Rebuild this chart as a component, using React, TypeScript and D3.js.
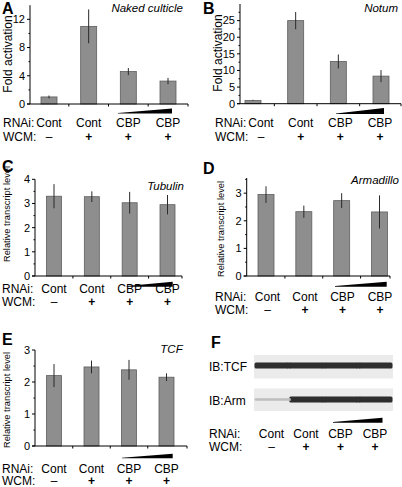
import React from 'react';
import * as d3 from 'd3';

// ---------- data ----------
const rnaiLabels = ['Cont', 'Cont', 'CBP', 'CBP'];
const wcmLabels = ['–', '+', '+', '+'];

const nkdMeans = [1.0, 11.0, 4.6, 3.25];
const nkdErrors = [0.2, 2.4, 0.5, 0.45];
const nkdTicks = [0, 4, 8, 12];

const notumMeans = [1.0, 25.0, 12.7, 8.3];
const notumErrors = [0.15, 2.6, 2.1, 1.8];
const notumTicks = [0, 5, 10, 15, 20, 25];

const tubulinMeans = [3.3, 3.28, 3.03, 2.95];
const tubulinErrors = [0.5, 0.22, 0.45, 0.4];
const tubulinTicks = [0, 1, 2, 3, 4];

const armMeans = [2.95, 2.33, 2.73, 2.32];
const armErrors = [0.3, 0.22, 0.27, 0.6];
const armTicks = [0, 1, 2, 3];

const tcfMeans = [2.2, 2.47, 2.38, 2.15];
const tcfErrors = [0.36, 0.2, 0.31, 0.12];
const tcfTicks = [0, 1, 2, 3];

const blotTcfIntensity = [1, 1, 1, 1];
const blotArmIntensity = [0.22, 1, 1, 1];

// ---------- style ----------
const FONT = "'Liberation Sans', Arial, Helvetica, sans-serif";
const BAR_FILL = '#8e8e8e';
const BAR_STROKE = '#5e5e5e';

type PanelProps = {
  letter: string; letterX: number; letterY: number;
  title: string; titleX: number; titleY: number;
  yLabel: string; yLabelX: number; yLabelY: number; yLabelSize: number;
  means: number[]; errors: number[]; ticks: number[]; yMax: number;
  x0: number; x1: number; yZero: number; yTop: number;
  barRange: [number, number]; barWidth: number; labelRange: [number, number];
  rowLabelX: number; rnaiY: number; wcmY: number;
  wedge: [number, number, number, number];
};

function Wedge({ w }: { w: [number, number, number, number] }) {
  const [xa, xb, bottom, h] = w;
  return <polygon points={`${xa},${bottom} ${xb},${bottom} ${xb},${bottom - h} ${xa},${bottom - 0.6}`} fill="#000" />;
}

function RowLabels({ x, rnaiY, wcmY, scale }: { x: number; rnaiY: number; wcmY: number; scale: d3.ScalePoint<number> }) {
  return (
    <g fontFamily={FONT} fontSize={12} fill="#000">
      <text x={x} y={rnaiY} dy="0.35em">RNAi:</text>
      <text x={x} y={wcmY} dy="0.35em">WCM:</text>
      {rnaiLabels.map((l, i) => (
        <text key={'r' + i} x={scale(i)} y={rnaiY} dy="0.35em" textAnchor="middle">{l}</text>
      ))}
      {wcmLabels.map((l, i) => (
        <text key={'w' + i} x={scale(i)} y={wcmY} dy="0.35em" textAnchor="middle" fontWeight={l === '+' ? 'bold' : 'normal'}>{l}</text>
      ))}
    </g>
  );
}

function BarPanel(p: PanelProps) {
  const idx = p.means.map((_, i) => i);
  const x = d3.scalePoint<number>().domain(idx).range(p.barRange);
  const lx = d3.scalePoint<number>().domain(idx).range(p.labelRange);
  const y = d3.scaleLinear().domain([0, p.yMax]).range([p.yZero, p.yTop]);
  const mids = idx.slice(0, -1).map(i => ((x(i) as number) + (x(i + 1) as number)) / 2);
  const step = p.ticks[1] - p.ticks[0];
  const minor = p.ticks.map(t => t + step / 2).filter(t => t < p.yMax);
  return (
    <g>
      <text x={p.letterX} y={p.letterY} fontFamily={FONT} fontWeight="bold" fontSize={16}>{p.letter}</text>
      <text x={p.titleX} y={p.titleY} dy="0.35em" textAnchor="end" fontFamily={FONT} fontStyle="italic" fontSize={11.5}>{p.title}</text>
      <text transform={`translate(${p.yLabelX},${p.yLabelY}) rotate(-90)`} textAnchor="middle" dy="0.35em" fontFamily={FONT} fontSize={p.yLabelSize}>{p.yLabel}</text>
      {idx.map(i => {
        const cx = x(i) as number;
        return (
          <g key={i}>
            <rect x={cx - p.barWidth / 2} y={y(p.means[i])} width={p.barWidth} height={p.yZero - y(p.means[i])} fill={BAR_FILL} stroke={BAR_STROKE} strokeWidth={0.8} />
            <line x1={cx} x2={cx} y1={y(p.means[i] - p.errors[i])} y2={y(p.means[i] + p.errors[i])} stroke="#2a2a2a" strokeWidth={1} />
          </g>
        );
      })}
      <line x1={p.x0} x2={p.x0} y1={p.yZero} y2={p.yTop} stroke="#000" strokeWidth={1} />
      <line x1={p.x0 - 3} x2={p.x1} y1={p.yZero} y2={p.yZero} stroke="#000" strokeWidth={1} />
      {p.ticks.map(t => (
        <g key={t}>
          <line x1={p.x0 - 3} x2={p.x0} y1={y(t)} y2={y(t)} stroke="#000" />
          <text x={p.x0 - 5} y={y(t)} dy="0.35em" textAnchor="end" fontFamily={FONT} fontSize={11}>{t}</text>
        </g>
      ))}
      {minor.map(t => (
        <line key={'m' + t} x1={p.x0 - 1.5} x2={p.x0} y1={y(t)} y2={y(t)} stroke="#000" />
      ))}
      {mids.map((m, i) => (
        <line key={i} x1={m} x2={m} y1={p.yZero} y2={p.yZero + 2.5} stroke="#000" />
      ))}
      <line x1={p.x1} x2={p.x1} y1={p.yZero} y2={p.yZero + 2.5} stroke="#000" />
      <Wedge w={p.wedge} />
      <RowLabels x={p.rowLabelX} rnaiY={p.rnaiY} wcmY={p.wcmY} scale={lx} />
    </g>
  );
}

function BlotPanel() {
  const lanes = blotTcfIntensity.map((_, i) => i);
  const lane = d3.scaleBand<number>().domain(lanes).range([254, 393]).padding(0);
  const shade = d3.scaleLinear<string>().domain([0, 1]).range(['#e6e6e6', '#2e2e2e']);
  const thick = d3.scaleLinear().domain([0, 1]).range([1.5, 6]);
  const lx = d3.scalePoint<number>().domain(lanes).range([271.5, 375]);
  const rows = [
    { label: 'IB:TCF', top: 355, h: 23.5, band: 365.5, vals: blotTcfIntensity },
    { label: 'IB:Arm', top: 388.5, h: 22.5, band: 399.5, vals: blotArmIntensity },
  ];
  return (
    <g>
      <defs>
        <filter id="blur" x="-5%" y="-50%" width="110%" height="200%">
          <feGaussianBlur stdDeviation="0.7" />
        </filter>
      </defs>
      <text x={211} y={348} fontFamily={FONT} fontWeight="bold" fontSize={16}>F</text>
      {rows.map(r => (
        <g key={r.label}>
          <text x={209} y={r.band + 1} dy="0.35em" fontFamily={FONT} fontSize={12}>{r.label}</text>
          <rect x={254} y={r.top} width={139} height={r.h} fill="#ebebeb" />
          <g filter="url(#blur)">
            {r.vals.map((v, i) => (
              <rect key={i} x={(lane(i) as number) + 0.5} y={r.band - thick(v) / 2} width={lane.bandwidth() - 1} height={thick(v)} fill={shade(v)} rx={1.5} />
            ))}
            {r.vals.slice(0, -1).map((v, i) => (
              <rect key={'j' + i} x={(lane(i + 1) as number) - 2} y={r.band - Math.min(thick(v), thick(r.vals[i + 1])) / 2} width={4} height={Math.min(thick(v), thick(r.vals[i + 1]))} fill={shade(Math.min(v, r.vals[i + 1]))} />
            ))}
          </g>
        </g>
      ))}
      <Wedge w={[333, 382.5, 422.7, 5]} />
      <RowLabels x={209} rnaiY={433.3} wcmY={446.7} scale={lx} />
    </g>
  );
}

export default function App() {
  return (
    <svg width={402} height={487} style={{ position: 'absolute', left: 0, top: 0, background: '#fff' }}>
      <BarPanel letter="A" letterX={2} letterY={13.5} title="Naked culticle" titleX={183} titleY={8}
        yLabel="Fold activation" yLabelX={8} yLabelY={54} yLabelSize={12}
        means={nkdMeans} errors={nkdErrors} ticks={nkdTicks} yMax={14}
        x0={30} x1={188} yZero={104} yTop={5.2} barRange={[49, 168]} barWidth={16} labelRange={[49, 168]}
        rowLabelX={3} rnaiY={123} wcmY={137} wedge={[118, 172, 113.5, 5]} />
      <BarPanel letter="B" letterX={203} letterY={14} title="Notum" titleX={398} titleY={8}
        yLabel="Fold activation" yLabelX={217.5} yLabelY={53} yLabelSize={12}
        means={notumMeans} errors={notumErrors} ticks={notumTicks} yMax={30}
        x0={240} x1={401} yZero={103.7} yTop={4} barRange={[253, 381]} barWidth={16} labelRange={[261, 380]}
        rowLabelX={215} rnaiY={123} wcmY={137} wedge={[336, 384, 114, 6]} />
      <BarPanel letter="C" letterX={2} letterY={172} title="Tubulin" titleX={184} titleY={186}
        yLabel="Relative transcript level" yLabelX={7} yLabelY={214} yLabelSize={9.3}
        means={tubulinMeans} errors={tubulinErrors} ticks={tubulinTicks} yMax={4}
        x0={35} x1={182} yZero={276} yTop={179.3} barRange={[54, 167.5]} barWidth={15} labelRange={[54, 167.5]}
        rowLabelX={2} rnaiY={288.5} wcmY={301.7} wedge={[126.7, 172.7, 286.7, 5]} />
      <BarPanel letter="D" letterX={203} letterY={174} title="Armadillo" titleX={399} titleY={180}
        yLabel="Relative transcript level" yLabelX={221} yLabelY={229} yLabelSize={9.3}
        means={armMeans} errors={armErrors} ticks={armTicks} yMax={3.55}
        x0={246.7} x1={390} yZero={276} yTop={178} barRange={[266, 379.5]} barWidth={16} labelRange={[267.5, 380]}
        rowLabelX={215} rnaiY={296.7} wcmY={309.3} wedge={[335, 386.7, 286.7, 5]} />
      <BarPanel letter="E" letterX={2} letterY={345} title="TCF" titleX={182.7} titleY={349.3}
        yLabel="Relative transcript level" yLabelX={7} yLabelY={400} yLabelSize={9.3}
        means={tcfMeans} errors={tcfErrors} ticks={tcfTicks} yMax={3}
        x0={35} x1={187} yZero={446} yTop={350} barRange={[54, 166.5]} barWidth={15} labelRange={[54, 166.5]}
        rowLabelX={2} rnaiY={468.3} wcmY={481} wedge={[122, 172.7, 458.3, 4.5]} />
      <BlotPanel />
    </svg>
  );
}
